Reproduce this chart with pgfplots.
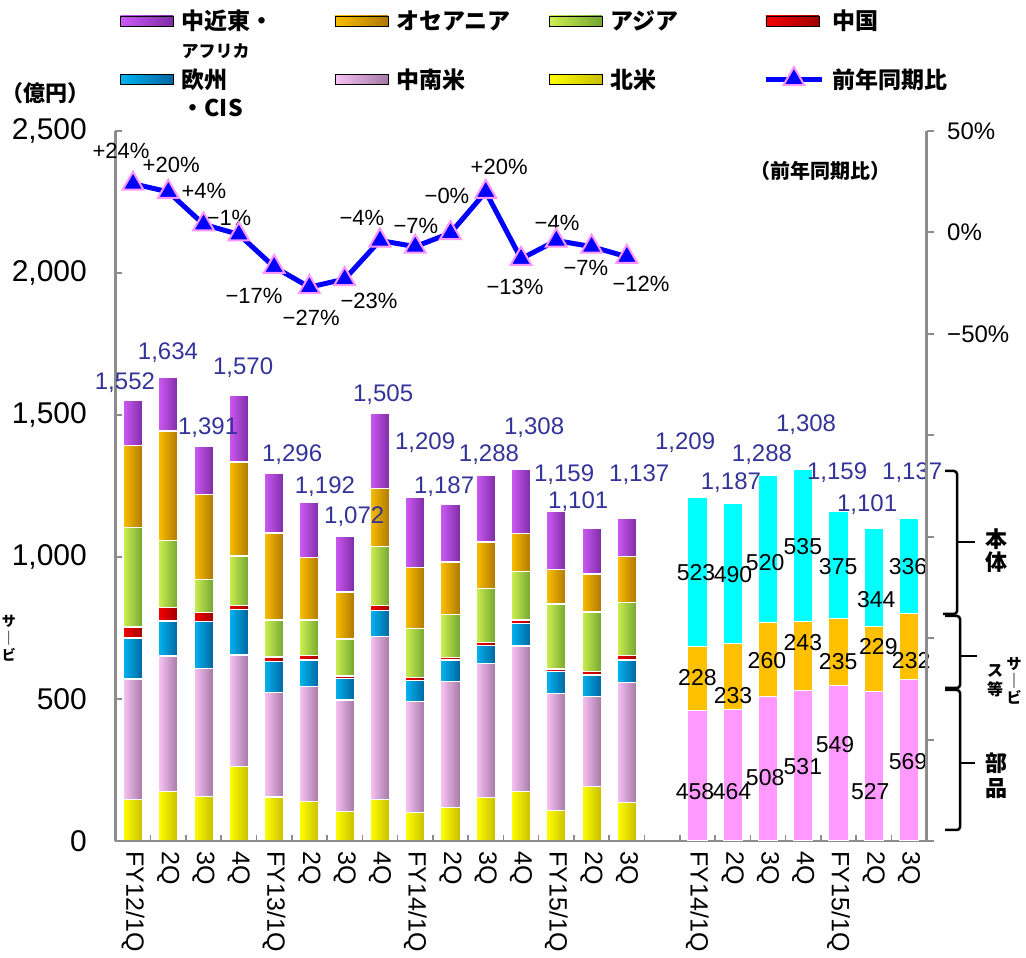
\documentclass[border=0pt]{standalone}
\usepackage{fontspec}
\setmainfont{Liberation Sans}
\newfontfamily\jp{Noto Sans CJK JP}
\usepackage{pgfplots}
\usepackage{pgfplotstable}
\pgfplotsset{compat=1.18}

\definecolor{meL}{RGB}{205,90,245}
\definecolor{meD}{RGB}{125,45,165}
\definecolor{ocL}{RGB}{250,190,0}
\definecolor{ocD}{RGB}{175,120,0}
\definecolor{asL}{RGB}{205,240,80}
\definecolor{asD}{RGB}{115,165,50}
\definecolor{cnL}{RGB}{245,0,0}
\definecolor{cnD}{RGB}{160,0,0}
\definecolor{euL}{RGB}{0,180,240}
\definecolor{euD}{RGB}{0,100,160}
\definecolor{laL}{RGB}{248,195,245}
\definecolor{laD}{RGB}{165,120,165}
\definecolor{naL}{RGB}{255,255,0}
\definecolor{naD}{RGB}{200,190,0}
\definecolor{parts}{RGB}{255,153,255}
\definecolor{serv}{RGB}{255,192,0}
\definecolor{body}{RGB}{0,255,255}
\definecolor{axgray}{RGB}{140,140,140}
\definecolor{totblue}{RGB}{51,51,153}
\definecolor{markpink}{RGB}{255,150,255}

\tikzset{
  tot/.style={font=\fontsize{24}{28}\selectfont, text=totblue},
  seglab/.style={font=\fontsize{23}{27}\selectfont, text=black},
  pct/.style={font=\fontsize{22}{26}\selectfont, text=black},
}
\pgfplotsset{
  swatch/.style={legend image code/.code={\fill[##1] (0pt,-5pt) rectangle (53pt,5pt);}},
  linelegend/.style={legend image code/.code={\draw[mark repeat=2,mark phase=2,##1] plot coordinates {(0pt,0pt) (28pt,0pt) (56pt,0pt)};}},
  geom/.style={at={(0pt,0pt)}, anchor=south west, scale only axis, width=811.3pt, height=710pt, xmin=-0.5, xmax=22.5},
  grad/.style 2 args={fill=#1, left color=#1, right color=#2, draw=white, line width=1.3pt},
}

% left group: regional breakdown (100 million yen)
\pgfplotstableread{
x na la eu cn as oc me
0 146 424 145 39 351 288 159
1 175 476 124 46 237 386 190
2 157 451 165 32 116 298 172
3 263 392 161 14 173 331 236
4 155 367 111 15 130 306 212
5 140 405 92 15 126 220 194
6 105 391 76 9 130 166 195
7 147 572 92 18 207 206 263
8 101 389 74 12 173 213 247
9 119 442 76 10 151 184 205
10 152 473 63 11 191 163 235
11 175 512 79 12 172 133 225
12 107 412 79 8 228 123 202
13 193 317 75 11 210 134 161
14 136 423 78 15 188 161 136
}\tabL

% right group: parts / service / main body
\pgfplotstableread{
x parts serv body
16 458 228 523
17 464 233 490
18 508 260 520
19 531 243 535
20 549 235 375
21 527 229 344
22 569 232 336
}\tabR

% year-on-year change (%)
\pgfplotstableread{
x p
0 24
1 20
2 4
3 -1
4 -17
5 -27
6 -23
7 -4
8 -7
9 -0.3
10 20
11 -13
12 -4
13 -7
14 -12
}\tabP

\begin{document}
\begin{tikzpicture}
\path[use as bounding box] (-115.4pt,-117pt) rectangle (910.6pt,841pt);

% ---------------- left group: one stacked bar per axis so each bar gets its own gradient
\foreach \i in {0,...,14}{
\begin{axis}[geom, ymin=0, ymax=2500, hide axis, ybar stacked, bar width=0.55,
  restrict x to domain=\i:\i]
\addplot[grad={naL}{naD}] table[x=x,y=na]{\tabL};
\addplot[grad={laL}{laD}] table[x=x,y=la]{\tabL};
\addplot[grad={euL}{euD}] table[x=x,y=eu]{\tabL};
\addplot[grad={cnL}{cnD}] table[x=x,y=cn]{\tabL};
\addplot[grad={asL}{asD}] table[x=x,y=as]{\tabL};
\addplot[grad={ocL}{ocD}] table[x=x,y=oc]{\tabL};
\addplot[grad={meL}{meD}] table[x=x,y=me]{\tabL};
\end{axis}
}

% ---------------- axis D: minor x tick marks between bars
\begin{axis}[geom, ymin=0, ymax=2500,
  axis x line*=bottom, axis y line=none,
  axis line style={draw=axgray, line width=2.5pt},
  tick align=inside, major tick length=6pt,
  xtick={0.5,1.5,...,21.5}, xticklabels={},
  xtick style={draw=axgray, line width=1.5pt},
]
\end{axis}

% ---------------- axis A: left axis + x labels
\begin{axis}[geom,
  ymin=0, ymax=2500,
  axis x line*=bottom, axis y line*=left,
  axis line style={draw=axgray, line width=2.5pt},
  tick align=inside, major tick length=7pt,
  ytick={0,500,...,2500},
  yticklabels={0,500,{1,000},{1,500},{2,000},{2,500}},
  yticklabel style={font=\fontsize{30}{36}\selectfont, xshift=-25pt},
  ytick style={draw=axgray, line width=2pt},
  xtick={0,1,...,22},
  xticklabels={FY12/1Q,2Q,3Q,4Q,FY13/1Q,2Q,3Q,4Q,FY14/1Q,2Q,3Q,4Q,FY15/1Q,2Q,3Q,{},FY14/1Q,2Q,3Q,4Q,FY15/1Q,2Q,3Q},
  xtick style={draw=none},
  xticklabel style={yshift=-7pt, rotate=-90, anchor=west, font=\fontsize{25}{30}\selectfont},
  clip=false,
]
\end{axis}

% ---------------- axis B: right group
\begin{axis}[geom, ymin=0, ymax=2500, hide axis, ybar stacked, bar width=0.55, clip=false]
\addplot[fill=parts, draw=white, line width=1pt] table[x=x,y=parts]{\tabR};
\addplot[fill=serv, draw=white, line width=1pt] table[x=x,y=serv]{\tabR};
\addplot[fill=body, draw=white, line width=1pt] table[x=x,y=body]{\tabR};
\end{axis}

% ---------------- axis E: value labels (drawn after the stacked bars)
\begin{axis}[geom, ymin=0, ymax=2500, hide axis, clip=false]
\node[tot] at (axis cs:-0.23,1613) {1,552};
\node[tot] at (axis cs:0.99,1718) {1,634};
\node[tot] at (axis cs:2.13,1454) {1,391};
\node[tot] at (axis cs:3.12,1665) {1,570};
\node[tot] at (axis cs:4.51,1359) {1,296};
\node[tot] at (axis cs:5.44,1246) {1,192};
\node[tot] at (axis cs:6.27,1141) {1,072};
\node[tot] at (axis cs:7.09,1570) {1,505};
\node[tot] at (axis cs:8.28,1401) {1,209};
\node[tot] at (axis cs:8.82,1246) {1,187};
\node[tot] at (axis cs:10.09,1359) {1,288};
\node[tot] at (axis cs:11.37,1454) {1,308};
\node[tot] at (axis cs:12.22,1289) {1,159};
\node[tot] at (axis cs:12.62,1194) {1,101};
\node[tot] at (axis cs:14.35,1289) {1,137};
\node[tot] at (axis cs:15.65,1401) {1,209};
\node[tot] at (axis cs:16.95,1261) {1,187};
\node[tot] at (axis cs:17.83,1359) {1,288};
\node[tot] at (axis cs:19.08,1465) {1,308};
\node[tot] at (axis cs:19.96,1296) {1,159};
\node[tot] at (axis cs:20.81,1183) {1,101};
\node[tot] at (axis cs:22.09,1296) {1,137};
\node[seglab] at (axis cs:15.96,944) {523};
\node[seglab] at (axis cs:17.01,937) {490};
\node[seglab] at (axis cs:17.92,982) {520};
\node[seglab] at (axis cs:18.99,1035) {535};
\node[seglab] at (axis cs:19.99,965) {375};
\node[seglab] at (axis cs:21.07,849) {344};
\node[seglab] at (axis cs:21.97,965) {336};
\node[seglab] at (axis cs:16.0,577) {228};
\node[seglab] at (axis cs:17.01,511) {233};
\node[seglab] at (axis cs:17.97,637) {260};
\node[seglab] at (axis cs:18.99,697) {243};
\node[seglab] at (axis cs:19.99,630) {235};
\node[seglab] at (axis cs:21.13,683) {229};
\node[seglab] at (axis cs:22.06,637) {232};
\node[seglab] at (axis cs:15.93,173) {458};
\node[seglab] at (axis cs:16.98,173) {464};
\node[seglab] at (axis cs:17.92,222) {508};
\node[seglab] at (axis cs:18.99,261) {531};
\node[seglab] at (axis cs:19.90,338) {549};
\node[seglab] at (axis cs:20.90,173) {527};
\node[seglab] at (axis cs:21.97,278) {569};
\end{axis}

% ---------------- axis C: YoY line, right axis, legend
\begin{axis}[geom, ymin=-300, ymax=50,
  axis x line=none, axis y line*=right,
  axis line style={draw=axgray, line width=2.5pt},
  tick align=outside, major tick length=7pt,
  ytick={-300,-250,...,50},
  yticklabels={{},{},{},{},{},{−50\%},{0\%},{50\%}},
  ytick style={draw=axgray, line width=2pt},
  yticklabel style={font=\fontsize{24}{28}\selectfont, anchor=west, xshift=10pt},
  clip=false,
  legend columns=4,
  legend cell align=left,
  legend style={at={(0.0057,1.1732)}, anchor=north west, draw=none, fill=none,
    inner sep=0pt, row sep=33pt,
    font=\jp\bfseries\fontsize{23}{28}\selectfont,
    /tikz/every odd column/.append style={column sep=6pt},
    /tikz/every even column/.append style={column sep=6pt}},
]
\addlegendimage{swatch, left color=meL, right color=meD}
\addlegendentry{\makebox[145pt][l]{\rlap{\raisebox{-28pt}[0pt][0pt]{\fontsize{17}{20}\selectfont アフリカ}}中近東・}}
\addlegendimage{swatch, left color=ocL, right color=ocD}
\addlegendentry{\makebox[145pt][l]{オセアニア}}
\addlegendimage{swatch, left color=asL, right color=asD}
\addlegendentry{\makebox[145pt][l]{アジア}}
\addlegendimage{swatch, left color=cnL, right color=cnD}
\addlegendentry{\makebox[145pt][l]{中国}}
\addlegendimage{swatch, left color=euL, right color=euD}
\addlegendentry{\makebox[145pt][l]{\rlap{\raisebox{-28pt}[0pt][0pt]{・CIS}}欧州}}
\addlegendimage{swatch, left color=laL, right color=laD}
\addlegendentry{\makebox[145pt][l]{中南米}}
\addlegendimage{swatch, left color=naL, right color=naD}
\addlegendentry{\makebox[145pt][l]{北米}}
\addplot[draw=blue, line width=5pt, mark=triangle*, mark size=12pt,
  mark options={fill=blue, draw=markpink, line width=2pt, solid}, linelegend]
  table[x=x,y=p]{\tabP};
\addlegendentry{\makebox[145pt][l]{前年同期比}}

\node[pct] at (axis cs:-0.34,40.1) {+24\%};
\node[pct] at (axis cs:1.08,33.2) {+20\%};
\node[pct] at (axis cs:2.01,20.4) {+4\%};
\node[pct] at (axis cs:2.72,7.1) {−1\%};
\node[pct] at (axis cs:3.43,-31.4) {−17\%};
\node[pct] at (axis cs:5.05,-42.2) {−27\%};
\node[pct] at (axis cs:6.69,-33.8) {−23\%};
\node[pct] at (axis cs:6.49,7.1) {−4\%};
\node[pct] at (axis cs:8.02,3.2) {−7\%};
\node[pct] at (axis cs:8.90,17.9) {−0\%};
\node[pct] at (axis cs:10.38,32.2) {+20\%};
\node[pct] at (axis cs:10.83,-26.9) {−13\%};
\node[pct] at (axis cs:12.02,4.6) {−4\%};
\node[pct] at (axis cs:12.84,-17.5) {−7\%};
\node[pct] at (axis cs:14.40,-25.4) {−12\%};
\end{axis}

% ---------------- decorations in pixel coordinates
\begin{scope}[shift={(-115.4pt,841pt)}, x=1pt, y=-1pt]
\node[font=\jp\bfseries\fontsize{22}{26}\selectfont] at (46,93) {（億円）};
\node[font=\jp\bfseries\fontsize{20}{24}\selectfont] at (820,171) {（前年同期比）};
\draw[line width=2.5pt, rounded corners=3pt] (945,471)--(957,471)--(957,614)--(943,614);
\draw[line width=2.5pt] (957,542)--(975,542);
\draw[line width=2.5pt, rounded corners=3pt] (945,616)--(960,616)--(960,688)--(945,688);
\draw[line width=2.5pt] (960,656)--(977,656);
\draw[line width=2.5pt, rounded corners=3pt] (945,690)--(960,690)--(960,830)--(945,830);
\draw[line width=2.5pt] (960,763)--(975,763);
\node[font=\jp\bfseries\fontsize{22}{23}\selectfont, align=center] at (996,551) {本\\体};
\node[font=\jp\bfseries\fontsize{22}{25}\selectfont, align=center] at (996,776) {部\\品};
\node[font=\jp\bfseries\fontsize{15}{17}\selectfont, align=center] at (1014,681) {サ\\｜\\ビ};
\node[font=\jp\bfseries\fontsize{16}{19}\selectfont, align=center] at (995,681) {ス\\等};
\node[font=\jp\bfseries\fontsize{14}{17}\selectfont, align=center] at (9,638) {サ\\｜\\ビ};
\end{scope}
\end{tikzpicture}
\end{document}
